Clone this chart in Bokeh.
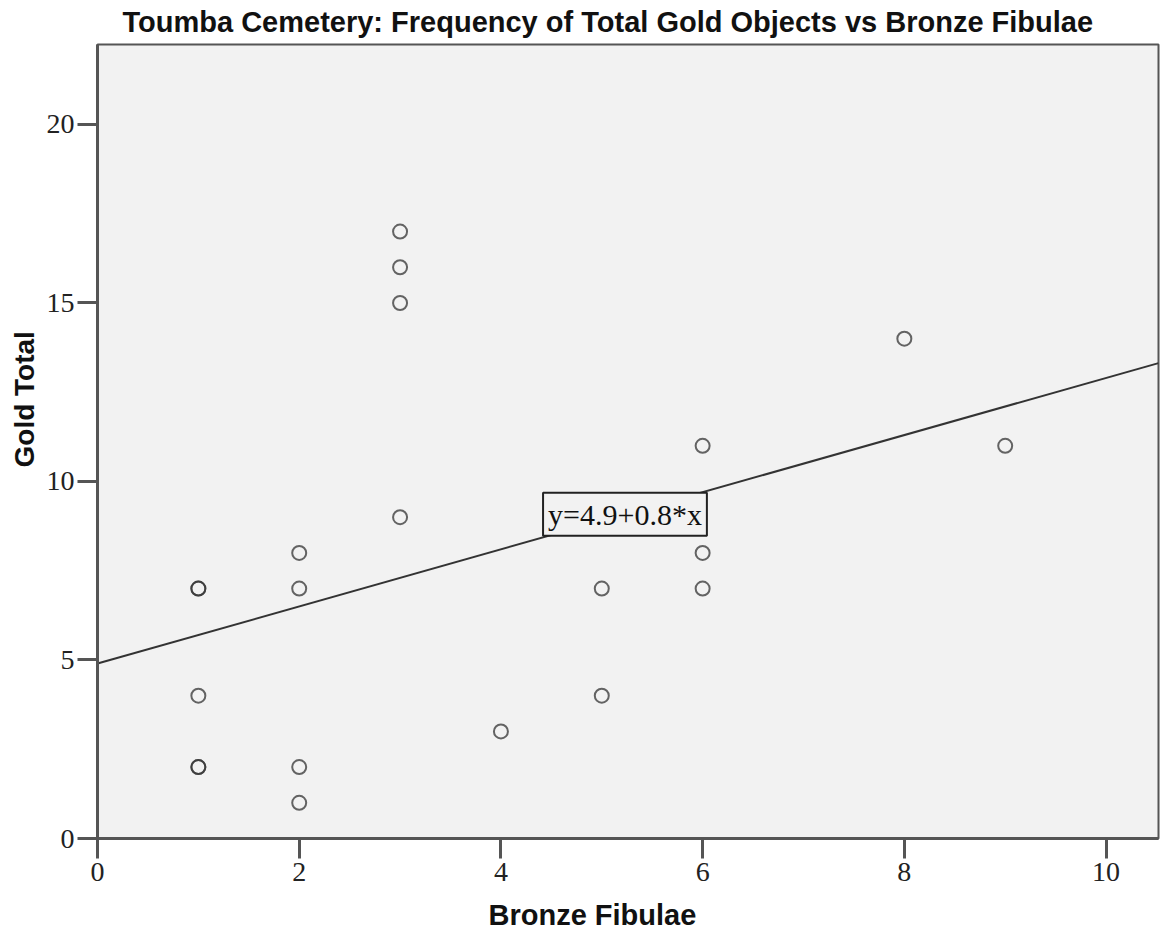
from bokeh.plotting import figure
from bokeh.models import Range1d, Label, FixedTicker, Title
from bokeh.embed import file_html
from bokeh.resources import INLINE

# Burials: bronze fibulae count vs total gold objects (repeated graves listed twice)
bronze_fibulae = [1, 1, 1, 1, 1, 2, 2, 2, 2, 3, 3, 3, 3, 4, 5, 5, 6, 6, 6, 8, 9]
gold_total = [7, 7, 4, 2, 2, 8, 7, 2, 1, 17, 16, 15, 9, 3, 7, 4, 11, 8, 7, 14, 11]

# Fitted line as printed on the chart
fit_intercept = 4.9
fit_slope = 0.8
x_ticks = [0, 2, 4, 6, 8, 10]
y_ticks = [0, 5, 10, 15, 20]

x_lo, x_hi = 0, 10.52
y_lo, y_hi = 0, 22.24

p = figure(width=1160, height=938, output_backend="svg", toolbar_location=None,
           x_range=Range1d(x_lo, x_hi), y_range=Range1d(y_lo, y_hi),
           frame_width=1061, frame_height=794,
           min_border_left=97, min_border_right=2, min_border_top=44, min_border_bottom=96)

p.title = Title(text="Toumba Cemetery: Frequency of Total Gold Objects vs Bronze Fibulae",
                text_font="Liberation Sans", text_font_size="29px", text_font_style="bold",
                text_color="#111111", align="left", offset=25, standoff=10,
                vertical_align="top")

p.background_fill_color = "#f2f2f2"
p.border_fill_color = "white"
p.outline_line_color = "#555555"
p.outline_line_width = 2
p.grid.visible = False

for ax in (p.xaxis[0], p.yaxis[0]):
    ax.axis_line_color = "#555555"
    ax.axis_line_width = 3
    ax.major_tick_line_color = "#555555"
    ax.major_tick_line_width = 3
    ax.major_tick_out = 20
    ax.major_tick_in = 0
    ax.minor_tick_line_color = None
    ax.major_label_text_font = "Liberation Serif"
    ax.major_label_text_font_size = "28px"
    ax.major_label_text_color = "#222222"

p.xaxis.ticker = FixedTicker(ticks=x_ticks)
p.yaxis.ticker = FixedTicker(ticks=y_ticks)
p.xaxis.major_label_standoff = 4
p.yaxis.major_label_standoff = 3

# Axis titles, placed off-centre along each axis
p.add_layout(Title(text="Bronze Fibulae", text_font="Liberation Sans", text_font_size="29px",
                   text_font_style="bold", text_color="#111111", align="left",
                   offset=391, standoff=27), "below")
p.add_layout(Title(text="Gold Total", text_font="Liberation Sans", text_font_size="28px",
                   text_font_style="bold", text_color="#111111", align="left",
                   offset=371, standoff=8), "left")

# Regression line
fit_x = [x_lo, x_hi]
fit_y = [fit_intercept + fit_slope * v for v in fit_x]
p.line(fit_x, fit_y, line_color="#333333", line_width=2)

# Observations as open circles
p.scatter(bronze_fibulae, gold_total, marker="circle", size=14, fill_color=None,
          line_color="#333333", line_width=2, line_alpha=0.75)

# Equation box centred on the line
eq_x = 5.23
eq_y = fit_intercept + fit_slope * eq_x
p.add_layout(Label(x=eq_x, y=eq_y, text=f"y={fit_intercept}+{fit_slope}*x",
                   text_align="center", text_baseline="middle",
                   text_font="Liberation Serif", text_font_size="30px", text_color="#111111",
                   background_fill_color="#f2f2f2", border_line_color="#222222",
                   border_line_width=2, padding=5))

open("out.html", "w").write(file_html(p, INLINE))
